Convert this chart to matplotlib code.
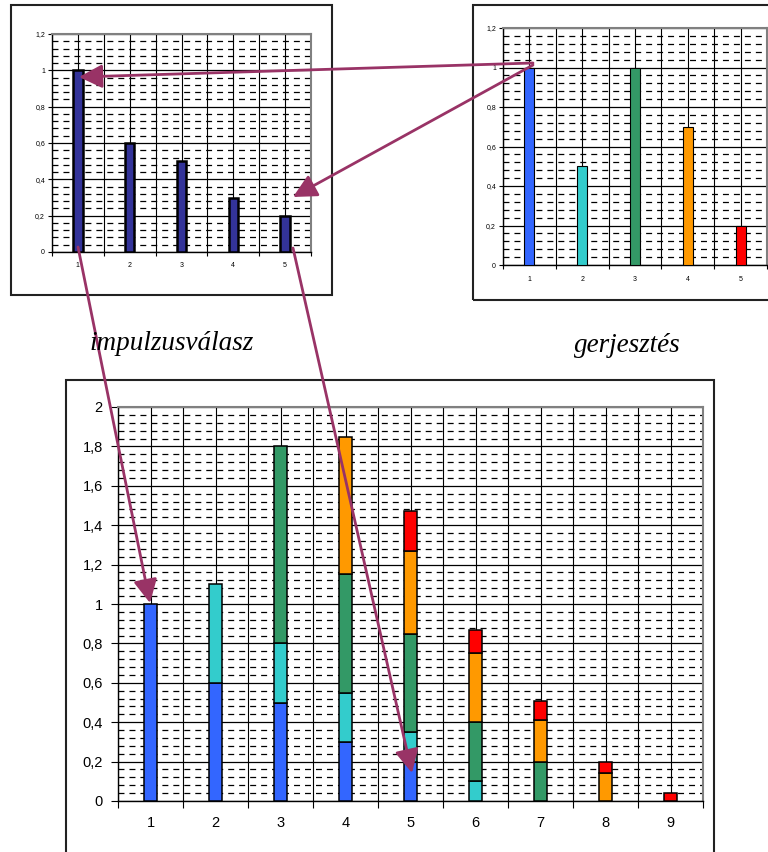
import numpy as np
import matplotlib
matplotlib.use("Agg")
from matplotlib import pyplot as plt
from matplotlib.patches import Rectangle, FancyArrowPatch
from matplotlib.ticker import FuncFormatter

plt.rcParams['font.family'] = ['Liberation Sans', 'DejaVu Sans']
plt.rcParams['lines.scale_dashes'] = False

# impulzusválasz (top left)
h_cats = [1, 2, 3, 4, 5]
h_vals = [1, 0.6, 0.5, 0.3, 0.2]

# gerjesztés (top right)
x_cats = [1, 2, 3, 4, 5]
x_vals = [1, 0.5, 1, 0.7, 0.2]

# stacked result (bottom), one list per excitation sample
y_cats = [1, 2, 3, 4, 5, 6, 7, 8, 9]
s_blue = [1, 0.6, 0.5, 0.3, 0.2, 0, 0, 0, 0]
s_cyan = [0, 0.5, 0.3, 0.25, 0.15, 0.1, 0, 0, 0]
s_green = [0, 0, 1, 0.6, 0.5, 0.3, 0.2, 0, 0]
s_orange = [0, 0, 0, 0.7, 0.42, 0.35, 0.21, 0.14, 0]
s_red = [0, 0, 0, 0, 0.2, 0.12, 0.1, 0.06, 0.04]

colors = ['#3366FF', '#33CCCC', '#339966', '#FF9900', '#FF0000']
navy = '#333399'
plum = '#993366'

W, H = 768, 852
fig = plt.figure(figsize=(W / 100, H / 100), dpi=100)


def px(l, t, r, b):
    # pixel box -> figure fraction rect
    return [l / W, 1 - b / H, (r - l) / W, (b - t) / H]


def fx(x, y):
    return (x / W, 1 - y / H)


comma = FuncFormatter(lambda v, p: ('%g' % round(v, 2)).replace('.', ','))


def style_axes(ax, n, ymax, fs, ylen, ypad, xpad):
    ax.set_xlim(0.5, n + 0.5)
    ax.set_ylim(0, ymax)
    ax.set_axisbelow(True)
    # boundaries as major ticks, category labels on minor ticks
    ax.set_xticks(np.arange(0.5, n + 1, 1))
    ax.set_xticklabels([])
    ax.set_xticks(np.arange(1, n + 1), minor=True)
    ax.set_xticklabels([str(i) for i in range(1, n + 1)], minor=True, fontsize=fs)
    ax.tick_params(axis='x', which='major', length=ylen, width=0.8, direction='out')
    ax.tick_params(axis='x', which='minor', length=0, pad=xpad)
    ax.set_yticks(np.arange(0, ymax + 0.01, 0.2))
    ax.yaxis.set_major_formatter(comma)
    ax.set_yticks(np.arange(0, ymax, 0.04), minor=True)
    ax.tick_params(axis='y', which='major', length=ylen, width=0.8, labelsize=fs, pad=ypad)
    ax.tick_params(axis='y', which='minor', length=0)
    ax.xaxis.grid(True, which='both', color='black', lw=0.8)
    ax.yaxis.grid(True, which='major', color='black', lw=0.9)
    ax.yaxis.grid(True, which='minor', color='black', lw=0.9, ls=(0, (4.3, 3.6)))
    for s in ['top', 'right']:
        ax.spines[s].set_color('#808080')
        ax.spines[s].set_linewidth(1.5)
    for s in ['left', 'bottom']:
        ax.spines[s].set_color('black')
        ax.spines[s].set_linewidth(1.0)


# outer frames
for (l, t, r, b) in [(11, 5, 332, 295), (473, 5, 800, 300), (66, 380, 714, 900)]:
    fig.add_artist(Rectangle(fx(l, b), (r - l) / W, (b - t) / H, transform=fig.transFigure,
                             fill=False, edgecolor='#222222', lw=1.5))

# top left
ax1 = fig.add_axes(px(52, 34, 311, 252))
ax1.bar(h_cats, h_vals, width=0.18, color=navy, edgecolor='black', lw=1.8, zorder=3)
style_axes(ax1, 5, 1.2, 5, 3, 2, 7)

# top right
ax2 = fig.add_axes(px(503, 28, 767, 265))
ax2.bar(x_cats, x_vals, width=0.19, color=colors, edgecolor='black', lw=0.8, zorder=3)
style_axes(ax2, 5, 1.2, 5, 3, 2, 8)

# bottom stacked
ax3 = fig.add_axes(px(118, 407, 703, 801))
bottom = np.zeros(len(y_cats))
for vals, c in zip([s_blue, s_cyan, s_green, s_orange, s_red], colors):
    vals = np.array(vals)
    m = vals > 0
    ax3.bar(np.array(y_cats)[m], vals[m], bottom=bottom[m], width=0.19, color=c,
            edgecolor='black', lw=1.1, zorder=3)
    bottom += vals
style_axes(ax3, 9, 2.0, 10.5, 5, 6, 11)

# captions
fig.text(*fx(172, 343), 'impulzusválasz', family='Liberation Serif', style='italic',
         fontsize=19.5, ha='center', va='center')
fig.text(*fx(627, 346), 'gerjesztés', family='Liberation Serif', style='italic',
         fontsize=19.5, ha='center', va='center')

# arrows
arrows = [((533, 63), (79, 77)), ((533, 65), (293, 197)),
          ((78, 247), (150, 603)), ((293, 248), (412, 773))]
for a, b in arrows:
    fig.add_artist(FancyArrowPatch(fx(*a), fx(*b), transform=fig.transFigure,
                                   arrowstyle='-|>,head_length=0.75,head_width=0.38',
                                   mutation_scale=19, color=plum, lw=2,
                                   shrinkA=0, shrinkB=0))

fig.savefig('out.png', dpi=100)
